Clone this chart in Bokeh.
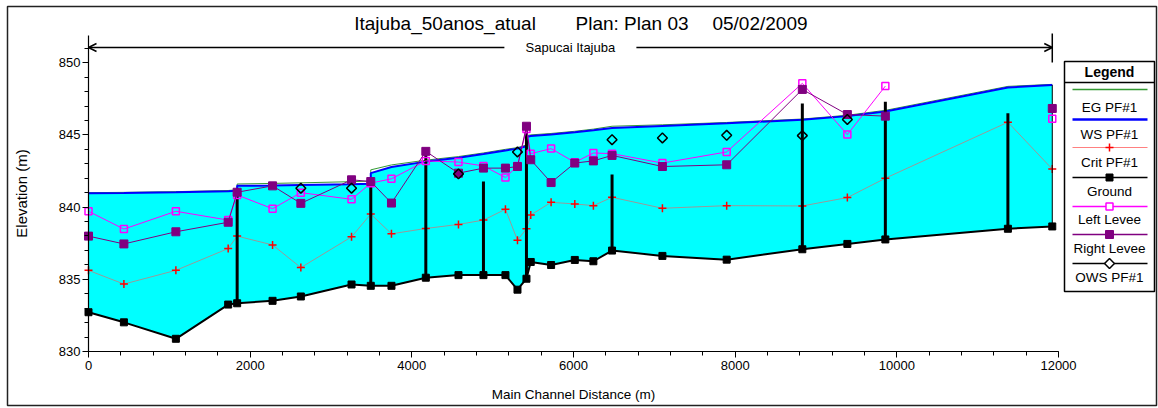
import math
from bokeh.plotting import figure
from bokeh.models import Range1d, SingleIntervalTicker, Arrow, OpenHead
from bokeh.core.properties import value
from bokeh.embed import file_html
from bokeh.resources import INLINE

nan = float("nan")

# ---------------- data ----------------
title_parts = ["Itajuba_50anos_atual", "Plan: Plan 03", "05/02/2009"]
reach_name = "Sapucai Itajuba"
x_label = "Main Channel Distance (m)"
y_label = "Elevation (m)"
legend_title = "Legend"
legend_labels = ["EG PF#1", "WS PF#1", "Crit PF#1", "Ground", "Left Levee", "Right Levee", "OWS PF#1"]

stations = [0, 438, 1081, 1728, 1839, 2277, 2627, 3254, 3492, 3748, 4173, 4577, 4886, 5158,
            5307, 5418, 5471, 5723, 6016, 6246, 6477, 7100, 7895, 8831, 9388, 9858, 11374, 11923]
ground = [832.72, 832.02, 830.88, 833.25, 833.34, 833.51, 833.81, 834.64, 834.55, 834.55, 835.11,
          835.29, 835.29, 835.29, 834.28, 835.04, 836.20, 835.99, 836.34, 836.25, 836.99, 836.62,
          836.36, 837.08, 837.45, 837.76, 838.50, 838.66]
crit = [835.62, 834.67, 835.62, 837.13, 837.99, 837.38, 835.81, 837.94, 839.52, 838.15, 838.52,
        838.80, 839.10, 839.85, 837.71, 838.50, 839.45, 840.33, 840.22, 840.10, 840.68, 839.92,
        840.10, 840.08, 840.66, 842.00, 845.88, 842.63]
left_levee = [839.71, 838.48, 839.71, 839.10, 840.84, 839.89, 841.00, 840.54, 841.66, 841.96, 843.20,
              843.12, 842.85, 842.05, 842.85, 845.40, 843.70, 844.05, 843.10, 843.75, 843.70, 843.05,
              843.82, 848.57, 845.02, 848.38, nan, 846.11]
right_levee = [837.99, 837.45, 838.29, 838.95, 841.03, 841.47, 840.26, 841.89, 841.77, 840.28, 843.86,
               842.35, 842.70, 842.70, 842.81, 845.60, 843.28, 841.70, 843.05, 843.20, 843.58, 842.81,
               842.93, 848.15, 846.41, 846.30, nan, 846.83]
ows = [nan, nan, nan, nan, nan, nan, 841.31, 841.31, nan, nan, nan, 842.30, nan, nan, 843.82, nan,
       nan, nan, nan, nan, 844.67, 844.79, 844.97, 844.95, 846.07, nan, nan, nan]

ws_station = [0, 438, 1081, 1728, 1839, 1839, 2277, 2627, 3254, 3492, 3492, 3748, 4173, 4577, 4886,
              5158, 5307, 5418, 5418, 5471, 5723, 6016, 6246, 6477, 7100, 7895, 8831, 9388, 9858,
              11374, 11923]
ws_elev = [840.96, 840.98, 841.03, 841.10, 841.14, 841.47, 841.50, 841.53, 841.58, 841.62, 842.35,
           842.78, 843.15, 843.42, 843.68, 843.92, 844.05, 844.22, 844.85, 844.92, 845.02, 845.18,
           845.32, 845.48, 845.62, 845.80, 846.05, 846.30, 846.62, 848.28, 848.45]
eg_elev = [841.00, 841.02, 841.07, 841.15, 841.20, 841.60, 841.64, 841.68, 841.76, 841.80, 842.58,
           842.92, 843.25, 843.50, 843.75, 844.00, 844.12, 844.30, 844.95, 845.00, 845.10, 845.25,
           845.40, 845.60, 845.70, 845.86, 846.10, 846.36, 846.70, 848.36, 848.50]

bridge_station = [1839, 3492, 4173, 4886, 5418, 6477, 8831, 9858, 11374]
bridge_top = [841.30, 841.77, 843.70, 841.77, 845.30, 842.26, 847.17, 847.30, 846.50]

# ---------------- layout helpers (pixel -> data) ----------------
LEFT_PX, PX_PER_M = 88.0, 970.0 / 12000.0
BOTTOM_PX, PX_PER_ELEV = 351.0, 14.44
W, H = 1158, 408


def X(px):
    return (px - LEFT_PX) / PX_PER_M


def Y(py):
    return 830.0 + (BOTTOM_PX - py) / PX_PER_ELEV


FONT = "Liberation Sans"

p = figure(width=W, height=H, output_backend="svg", toolbar_location=None,
           x_range=Range1d(X(0), X(W)), y_range=Range1d(Y(H), Y(0)),
           min_border_left=0, min_border_right=0, min_border_top=0, min_border_bottom=0)
p.grid.grid_line_color = None
p.outline_line_color = None
p.background_fill_color = "white"
p.border_fill_color = "white"

# outer frame of the picture
p.quad(left=[X(7)], right=[X(1156)], top=[Y(6)], bottom=[Y(405)], fill_color=None,
       line_color="#222222", line_width=1.5)

# axes (fixed inside the canvas)
p.xaxis.fixed_location = 830
p.yaxis.fixed_location = 0
p.xaxis.ticker = SingleIntervalTicker(interval=2000, num_minor_ticks=5)
p.xaxis.bounds = (0, 12000)
p.yaxis.ticker = SingleIntervalTicker(interval=5, num_minor_ticks=5)
p.yaxis.bounds = (830, Y(35))
for ax in (p.xaxis[0], p.yaxis[0]):
    ax.axis_line_color = "black"
    ax.axis_line_width = 1.2
    ax.major_tick_line_color = "black"
    ax.minor_tick_line_color = "black"
    ax.major_tick_out = 6
    ax.major_tick_in = 0
    ax.minor_tick_out = 4
    ax.minor_tick_in = 0
    ax.major_label_text_font = FONT
    ax.major_label_text_font_size = "13px"
    ax.major_label_text_color = "black"
    ax.axis_label_text_font = FONT
    ax.axis_label_text_font_style = "normal"
    ax.axis_label_text_color = "black"
p.xaxis.axis_label = x_label
p.yaxis.axis_label = y_label
p.xaxis.axis_label_text_font_size = "13.5px"
p.yaxis.axis_label_text_font_size = "15px"
p.xaxis.major_label_standoff = 3
p.yaxis.major_label_standoff = 2
p.xaxis.axis_label_standoff = 14
p.yaxis.axis_label_standoff = 26

# water area
poly_x = list(ws_station) + list(stations[::-1])
poly_y = list(ws_elev) + list(ground[::-1])
p.patch(poly_x, poly_y, fill_color="#00ffff", line_color=None)

p.line(ws_station, eg_elev, line_color="#339933", line_width=1)
p.line(ws_station, ws_elev, line_color="#0000ff", line_width=2)

# critical depth
p.line(stations, crit, line_color="#999999", line_width=1)
p.scatter(stations, crit, marker="cross", size=8, line_color="#ff0000", line_width=1.5)

# ground
p.line(stations, ground, line_color="black", line_width=2)
p.scatter(stations, ground, marker="square", size=7, fill_color="black", line_color="black")

# structures
gmap = dict(zip(stations, ground))
bridge_bottom = [gmap[s] for s in bridge_station]
p.segment(x0=bridge_station, y0=bridge_bottom, x1=bridge_station, y1=bridge_top,
          line_color="black", line_width=3)
p.segment(x0=[stations[-1]], y0=[ground[-1]], x1=[stations[-1]], y1=[ws_elev[-1]],
          line_color="black", line_width=1)

# levees
p.line(stations, left_levee, line_color="#ff00ff", line_width=1)
p.scatter(stations, left_levee, marker="square", size=7, fill_color=None,
          line_color="#ff00ff", line_width=1.5)
p.line(stations, right_levee, line_color="#800080", line_width=1)
p.scatter(stations, right_levee, marker="square", size=8, fill_color="#800080", line_color="#800080")

# observed WS
p.scatter(stations, ows, marker="square", angle=math.pi / 4, size=7, fill_color=None,
          line_color="black", line_width=1.5)

# title
title_px = [444.5, 631.5, 759.5]
p.text(x=[X(v) for v in title_px], y=[Y(23)] * 3, text=title_parts, text_align="center",
       text_baseline="middle", text_font=value(FONT), text_font_size=value("19px"), text_color="black")

# reach arrow
reach_y = Y(47)
mid = stations[-1] / 2.0
gap = 66 / PX_PER_M
p.add_layout(Arrow(end=OpenHead(size=8, line_width=1.5, line_color="black"), x_start=mid - gap,
                   y_start=reach_y, x_end=stations[0], y_end=reach_y, line_width=1.5, line_color="black"))
p.add_layout(Arrow(end=OpenHead(size=8, line_width=1.5, line_color="black"), x_start=mid + gap,
                   y_start=reach_y, x_end=stations[-1], y_end=reach_y, line_width=1.5, line_color="black"))
p.segment(x0=[stations[-1]], y0=[Y(33)], x1=[stations[-1]], y1=[Y(62)], line_color="black", line_width=1.5)
p.text(x=[mid], y=[reach_y], text=[reach_name], text_align="center", text_baseline="middle",
       text_font=value(FONT), text_font_size=value("13px"), text_color="black")

# legend
lx0, lx1 = X(1064), X(1154)
lxc = X(1109)
p.quad(left=[lx0], right=[lx1], top=[Y(61)], bottom=[Y(291)], fill_color="white",
       line_color="black", line_width=1.5)
p.segment(x0=[lx0], y0=[Y(82)], x1=[lx1], y1=[Y(82)], line_color="black", line_width=1.5)
p.text(x=[lxc], y=[Y(71)], text=[legend_title], text_align="center", text_baseline="middle",
       text_font=value(FONT), text_font_size=value("14px"), text_font_style="bold", text_color="black")
line_py = [89, 119, 147, 177, 206, 234, 263]
label_py = [107, 134, 162, 191, 219, 248, 277]
line_colors = ["#339933", "#0000ff", "#ff8080", "black", "#ff00ff", "#800080", "black"]
line_widths = [1.5, 2.5, 1.2, 1.5, 1.5, 1.5, 1.5]
p.segment(x0=[X(1072)] * 7, x1=[X(1147)] * 7, y0=[Y(v) for v in line_py], y1=[Y(v) for v in line_py],
          line_color=line_colors, line_width=line_widths)
p.text(x=[lxc] * 7, y=[Y(v) for v in label_py], text=legend_labels, text_align="center",
       text_baseline="middle", text_font=value(FONT), text_font_size=value("13.5px"), text_color="black")
p.scatter([lxc], [Y(147)], marker="cross", size=8, line_color="#ff0000", line_width=1.5)
p.scatter([lxc], [Y(177)], marker="square", size=7, fill_color="black", line_color="black")
p.scatter([lxc], [Y(206)], marker="square", size=7, fill_color="white", line_color="#ff00ff", line_width=1.5)
p.scatter([lxc], [Y(234)], marker="square", size=8, fill_color="#800080", line_color="#800080")
p.scatter([lxc], [Y(263)], marker="square", angle=math.pi / 4, size=7, fill_color="white",
          line_color="black", line_width=1.5)

open("out.html", "w").write(file_html(p, INLINE))
